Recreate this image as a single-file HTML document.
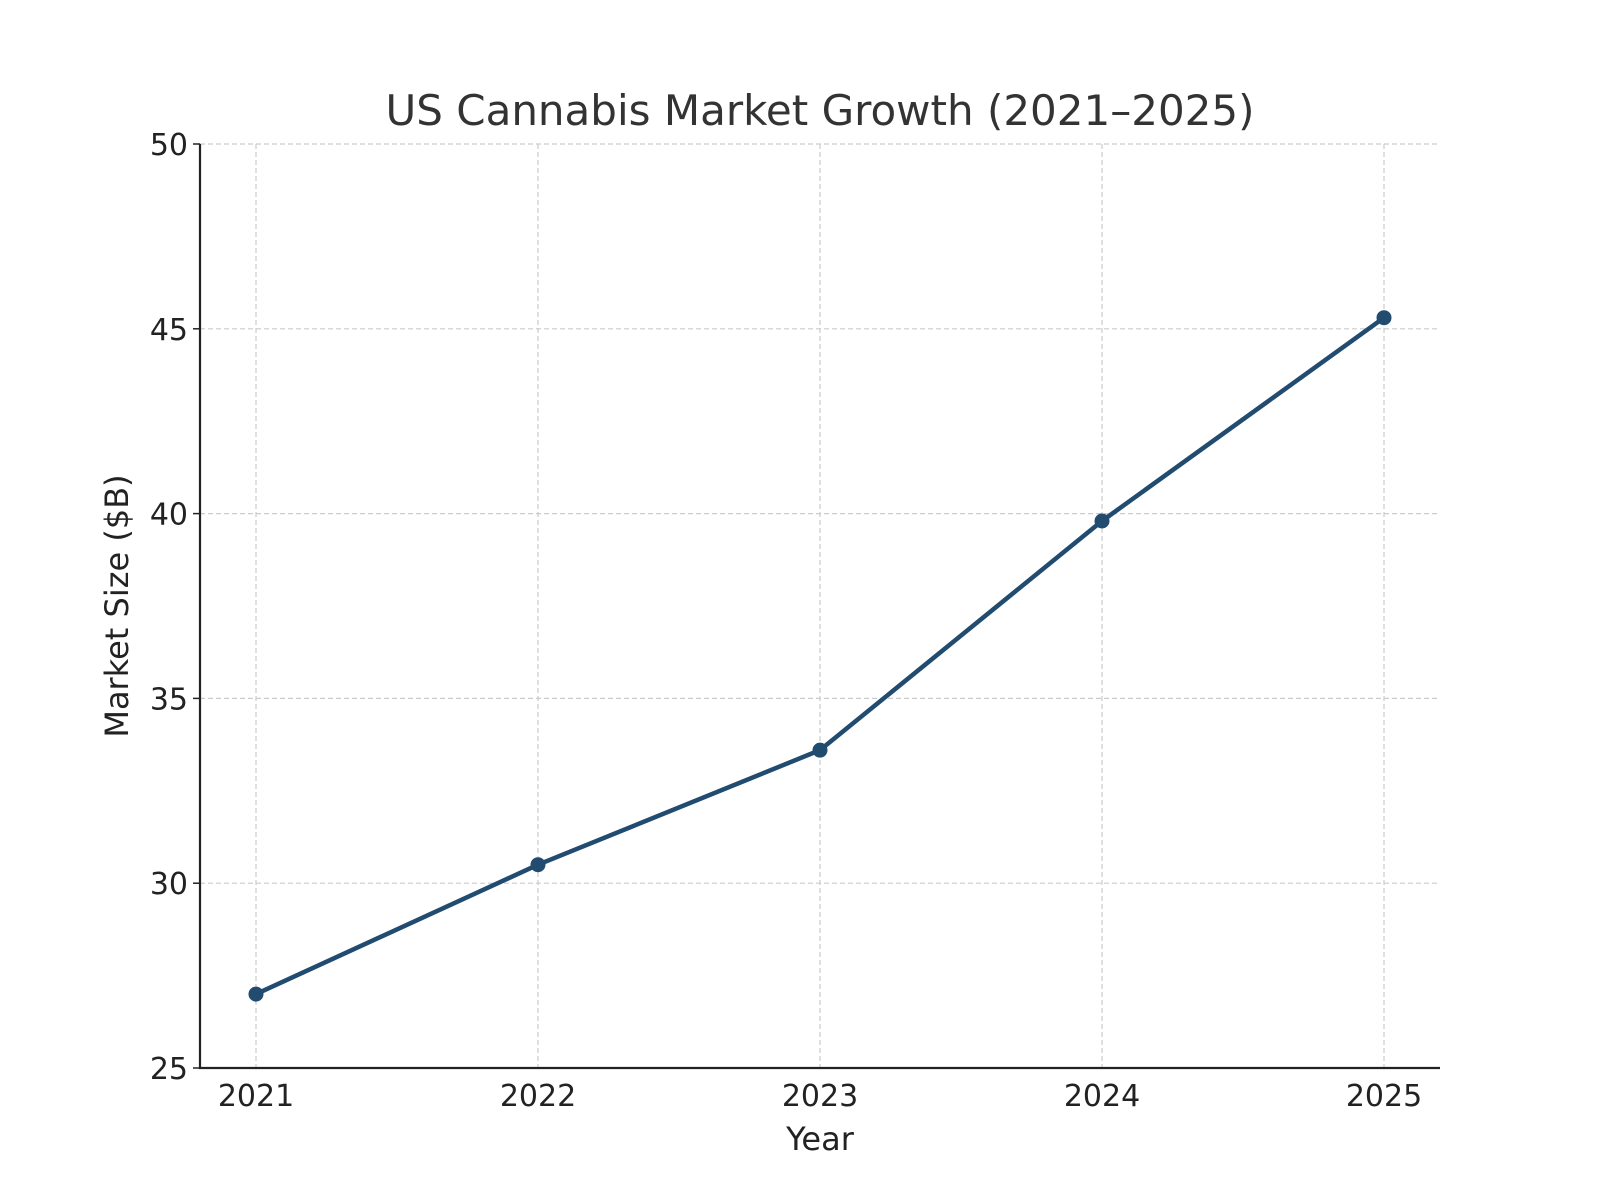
<!DOCTYPE html>
<html><head><meta charset="utf-8"><style>
html,body{margin:0;padding:0;background:#fff;}
svg{display:block;font-family:"DejaVu Sans","Liberation Sans",sans-serif;}
</style></head><body>
<svg id="chart" width="1600" height="1200" viewBox="0 0 1600 1200" xmlns="http://www.w3.org/2000/svg">
<rect width="1600" height="1200" fill="#fff"/>
<g id="grid"></g>
<g id="axes"></g>
<g id="series"></g>
<text x="820" y="125" text-anchor="middle" font-size="42" fill="#333">US Cannabis Market Growth (2021–2025)</text>
<text x="820" y="1150" text-anchor="middle" font-size="32" fill="#222">Year</text>
<text transform="translate(128,606) rotate(-90)" text-anchor="middle" font-size="32" fill="#222">Market Size ($B)</text>
</svg>
<script>
const categories = ["2021","2022","2023","2024","2025"];
const values = [27.0, 30.5, 33.6, 39.8, 45.3];
const yTicks = [25, 30, 35, 40, 45, 50];

const NS = "http://www.w3.org/2000/svg";
const L = 200, R = 1440, T = 144, B = 1068;
const x0 = 256, x1 = 1384;
function xScale(i){ return x0 + (x1 - x0) * i / (categories.length - 1); }
function yScale(v){ return B - (v - 25) / (50 - 25) * (B - T); }
function mk(tag, attrs, parent){
  const e = document.createElementNS(NS, tag);
  for (const k in attrs) e.setAttribute(k, attrs[k]);
  parent.appendChild(e);
  return e;
}
const grid = document.getElementById('grid');
const axes = document.getElementById('axes');
const series = document.getElementById('series');

yTicks.forEach(t => {
  const y = yScale(t);
  const g = mk('line', {x1:L, x2:R, y1:y, y2:y, stroke:'#cccccc', 'stroke-width':1.2, 'stroke-dasharray':'5,3'}, grid);
  
  
  const tk = mk('line', {x1:L-7, x2:L, y1:y, y2:y, stroke:'#222', 'stroke-width':1.5}, axes);
  
  
  const lb = mk('text', {x:L-12, y:y+11, 'text-anchor':'end', 'font-size':30, fill:'#222'}, axes);
  lb.textContent = t;
  
  
});
categories.forEach((c, i) => {
  const x = xScale(i);
  const g = mk('line', {x1:x, x2:x, y1:T, y2:B, stroke:'#cccccc', 'stroke-width':1.2, 'stroke-dasharray':'5,3'}, grid);
  
  
  const lb = mk('text', {x:x, y:B+38, 'text-anchor':'middle', 'font-size':30, fill:'#222'}, axes);
  lb.textContent = c;
  
  
});
const la = mk('line', {x1:L, x2:L, y1:T, y2:B+1, stroke:'#222', 'stroke-width':2.2}, axes);


const ba = mk('line', {x1:L-1, x2:R, y1:B, y2:B, stroke:'#222', 'stroke-width':2.2}, axes);



const pts = values.map((v, i) => xScale(i) + ',' + yScale(v)).join(' ');
const line = mk('polyline', {points:pts, fill:'none', stroke:'#224b70', 'stroke-width':4.5, 'stroke-linejoin':'round'}, series);


values.forEach((v, i) => {
  const c = mk('circle', {cx:xScale(i), cy:yScale(v), r:7.5, fill:'#224b70'}, series);
  
  
});
</script>
</body></html>
